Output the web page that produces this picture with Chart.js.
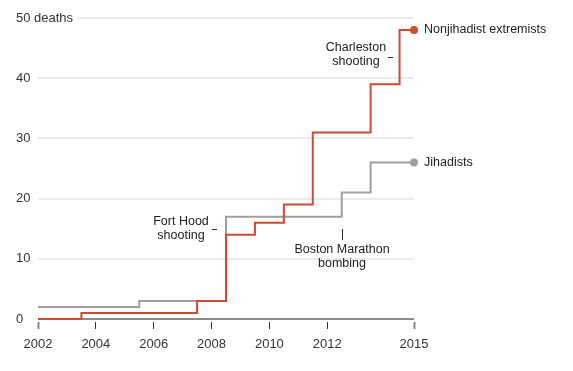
<!DOCTYPE html>
<html>
<head>
<meta charset="utf-8">
<script src="https://cdn.jsdelivr.net/npm/chart.js@4"></script>
<style>
  html, body { margin: 0; padding: 0; background: #fff; }
</style>
</head>
<body>
<canvas id="chart" width="573" height="371"></canvas>
<script>
// Step points: each year is where the count changes
const nonjihadistYears = [2002, 2003.5, 2007.5, 2008.5, 2009.5, 2010.5, 2011.5, 2013.5, 2014.5, 2015];
const nonjihadistDeaths = [0, 1, 3, 14, 16, 19, 31, 39, 48, 48];
const jihadistYears = [2002, 2005.5, 2008.5, 2012.5, 2013.5, 2015];
const jihadistDeaths = [2, 3, 17, 21, 26, 26];

const xTickYears = [2002, 2004, 2006, 2008, 2010, 2012, 2015];
const yTickValues = [0, 10, 20, 30, 40, 50];

const seriesLabels = ['Nonjihadist extremists', 'Jihadists'];
const RED = '#cf4a2f';
const GRAY = '#a19e9b';
const FONT = '"Liberation Sans", Arial, sans-serif';

// Event notes, anchored in data units
const notes = [
  { lines: ['Charleston', 'shooting'], year: 2014.5, value: 43.5, type: 'left', dash: [-12, -7], textDx: -44, textDy: [-9, 5] },
  { lines: ['Fort Hood', 'shooting'], year: 2008.5, value: 15, type: 'left', dash: [-14, -9], textDx: -45, textDy: [-7, 7] },
  { lines: ['Boston Marathon', 'bombing'], year: 2012.5, value: 15, type: 'down', dash: [0, 11], textDx: 0, textDy: [21, 35] }
];

function toPoints(xs, ys) {
  return xs.map((x, i) => ({ x: x, y: ys[i] }));
}

const lastDot = ctx => ctx.dataIndex === ctx.dataset.data.length - 1 ? 4 : 0;

const labelPlugin = {
  id: 'labels',
  beforeDatasetsDraw(chart) {
    // y-axis labels, left aligned, with a white box so the grid starts after the text
    const c = chart.ctx;
    const ys = chart.scales.y;
    c.save();
    c.font = '13px ' + FONT;
    c.textAlign = 'left';
    c.textBaseline = 'middle';
    yTickValues.forEach(v => {
      const t = v === 50 ? '50 deaths' : String(v);
      const y = ys.getPixelForValue(v);
      const w = c.measureText(t).width;
      c.fillStyle = '#fff';
      c.fillRect(16, y - 3, w + 4, 6);
      c.fillStyle = '#333';
      c.fillText(t, 16, y);
    });
    c.restore();
  },
  afterDatasetsDraw(chart) {
    const c = chart.ctx;
    const xs = chart.scales.x;
    const ys = chart.scales.y;
    c.save();
    // series end labels
    c.font = '12.5px ' + FONT;
    c.fillStyle = '#222';
    c.textAlign = 'left';
    c.textBaseline = 'middle';
    chart.data.datasets.forEach((ds, i) => {
      const meta = chart.getDatasetMeta(i);
      const p = meta.data[meta.data.length - 1];
      c.fillText(ds.label, p.x + 10, p.y);
    });
    // notes
    c.font = '12.5px ' + FONT;
    c.strokeStyle = '#333';
    c.lineWidth = 1;
    notes.forEach(n => {
      const px = Math.round(xs.getPixelForValue(n.year));
      const py = Math.round(ys.getPixelForValue(n.value));
      c.beginPath();
      if (n.type === 'left') {
        c.moveTo(px + n.dash[0], py + 0.5);
        c.lineTo(px + n.dash[1], py + 0.5);
      } else {
        c.moveTo(px + 0.5, py + n.dash[0]);
        c.lineTo(px + 0.5, py + n.dash[1]);
      }
      c.stroke();
      c.textAlign = 'center';
      n.lines.forEach((t, k) => c.fillText(t, px + n.textDx, py + n.textDy[k]));
    });
    c.restore();
  }
};

new Chart(document.getElementById('chart').getContext('2d'), {
  type: 'line',
  data: {
    datasets: [
      {
        label: seriesLabels[0],
        data: toPoints(nonjihadistYears, nonjihadistDeaths),
        borderColor: RED,
        backgroundColor: RED,
        borderWidth: 2,
        stepped: true,
        pointRadius: lastDot,
        pointBorderWidth: 0,
        clip: false
      },
      {
        label: seriesLabels[1],
        data: toPoints(jihadistYears, jihadistDeaths),
        borderColor: GRAY,
        backgroundColor: GRAY,
        borderWidth: 2,
        stepped: true,
        pointRadius: lastDot,
        pointBorderWidth: 0,
        clip: false,
        order: 1
      }
    ]
  },
  options: {
    responsive: false,
    animation: false,
    layout: { padding: { left: 16, top: 18, right: 159, bottom: 0 } },
    plugins: { legend: { display: false }, tooltip: { enabled: false } },
    scales: {
      x: {
        type: 'linear',
        min: 2002,
        max: 2015,
        afterBuildTicks: s => { s.ticks = xTickYears.map(v => ({ value: v })); },
        afterFit: s => { s.height = 49; },
        border: { display: false },
        grid: {
          drawOnChartArea: false,
          drawTicks: true,
          tickLength: 7,
          tickColor: ctx => (ctx.tick && (ctx.tick.value === 2002 || ctx.tick.value === 2015)) ? '#888' : '#333',
          tickWidth: ctx => (ctx.tick && (ctx.tick.value === 2002 || ctx.tick.value === 2015)) ? 2 : 1
        },
        ticks: {
          color: '#333',
          font: { family: FONT, size: 13 },
          padding: 8,
          maxRotation: 0,
          callback: v => String(v)
        }
      },
      y: {
        min: -0.5,
        max: 50,
        afterBuildTicks: s => { s.ticks = yTickValues.map(v => ({ value: v })); },
        afterFit: s => { s.width = 22; },
        border: { display: false },
        grid: {
          drawTicks: false,
          color: ctx => (ctx.tick && ctx.tick.value === 0) ? '#8a8a8a' : '#ebebeb',
          lineWidth: 2
        },
        ticks: { display: false }
      }
    }
  },
  plugins: [labelPlugin]
});
</script>
</body>
</html>
